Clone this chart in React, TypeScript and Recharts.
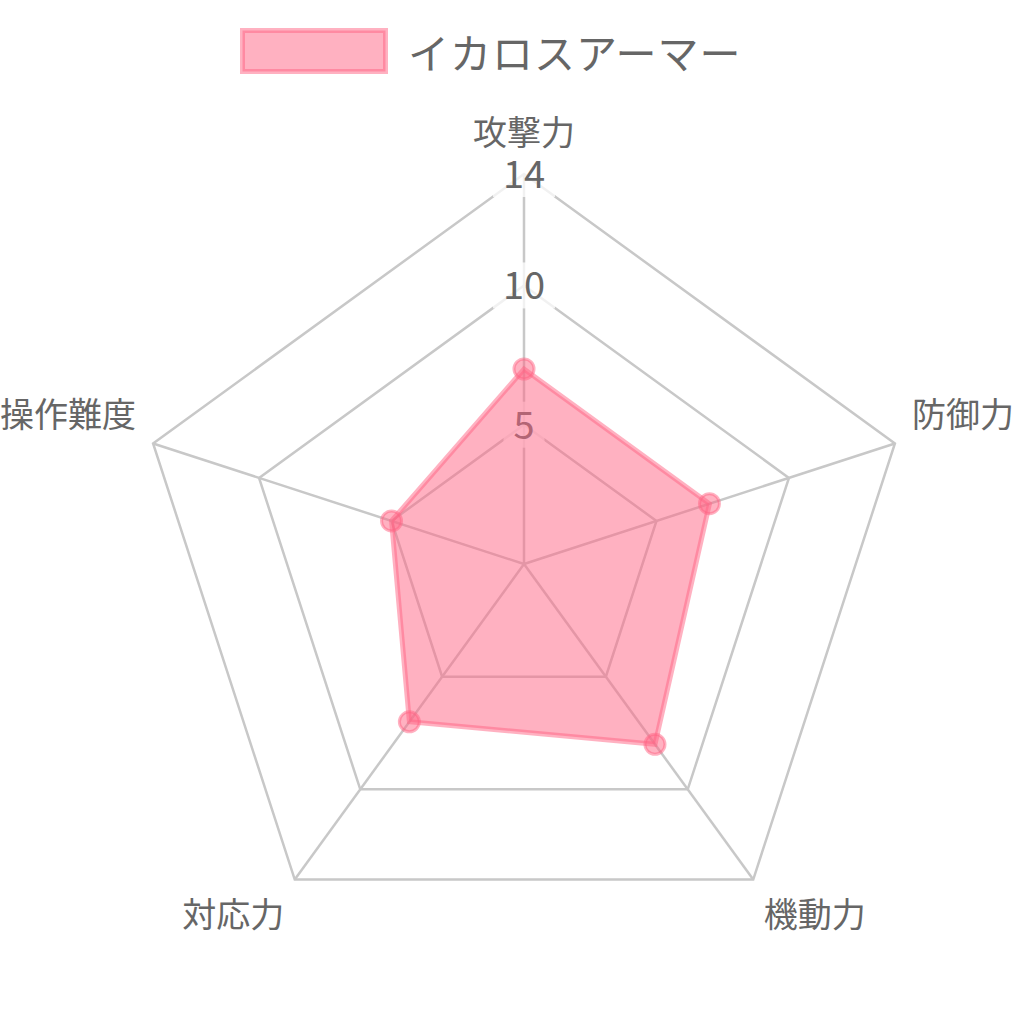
import React from "react";
import {
  RadarChart, Radar, PolarGrid, PolarAngleAxis, PolarRadiusAxis, Legend
} from "recharts";

const categories = ["攻撃力", "防御力", "機動力", "対応力", "操作難度"];
const icarusArmor = [7, 7, 8, 7, 5];
const radiusTicks = [0, 5, 10, 14];
const seriesName = "イカロスアーマー";

const data = categories.map((name, i) => ({ axis: name, value: icarusArmor[i] }));

const FONT = '"Noto Sans CJK JP", "Noto Sans", sans-serif';
const TEXT = "#666666";
const PINK = "rgb(255, 99, 132)";
const RAD = Math.PI / 180;

// point labels sit outside the outer ring, like chart.js does it
function AngleTick(props: any) {
  const { x, y, payload } = props;
  const a = payload.coordinate * RAD;
  const c = Math.cos(a);
  const anchor = Math.abs(c) < 0.01 ? "middle" : c > 0 ? "start" : "end";
  const upper = Math.sin(a) > 0;
  return (
    <text
      x={x}
      y={upper ? y - 11 : y + 33}
      textAnchor={anchor}
      fill={TEXT}
      fontSize={34}
      fontFamily={FONT}
    >
      {payload.value}
    </text>
  );
}

function RadiusTick(props: any) {
  const { x, y, payload } = props;
  if (payload.value === 0) return <g />;
  const label = String(payload.value);
  const w = label.length * 21 + 20;
  return (
    <g>
      <rect x={x - w / 2} y={y - 23} width={w} height={46} fill="#ffffff" fillOpacity={0.75} />
      <text x={x} y={y} dy={14} textAnchor="middle" fill={TEXT} fontSize={38} fontFamily={FONT}>
        {label}
      </text>
    </g>
  );
}

function LegendBox() {
  return (
    <div style={{ display: "flex", alignItems: "center", fontFamily: FONT }}>
      <svg width={148} height={46}>
        <rect
          x={2.5}
          y={2.5}
          width={143}
          height={41}
          fill={PINK}
          fillOpacity={0.5}
          stroke="rgba(255, 99, 132, 0.5)"
          strokeWidth={5}
        />
      </svg>
      <span style={{ marginLeft: 20, fontSize: 41, letterSpacing: 1, color: TEXT, lineHeight: 1 }}>
        {seriesName}
      </span>
    </div>
  );
}

export default function App() {
  return (
    <div style={{ position: "absolute", left: 0, top: 0, width: 1024, height: 1022, background: "#fff" }}>
      <RadarChart
        width={1024}
        height={1022}
        data={data}
        cx={524}
        cy={564}
        outerRadius={390}
        margin={{ top: 0, right: 0, bottom: 0, left: 0 }}
      >
        <PolarGrid gridType="polygon" stroke="#c8c8c8" strokeWidth={2.5} />
        <PolarAngleAxis
          dataKey="axis"
          tick={AngleTick}
          tickLine={false}
          axisLine={false}
          tickSize={18}
        />
        {/* chart.js draws the scale before the dataset, so the fill covers the "5" */}
        <PolarRadiusAxis
          angle={90}
          domain={[0, 14]}
          ticks={radiusTicks as any}
          axisLine={false}
          tick={RadiusTick}
          {...({ zIndex: -50 } as any)}
        />
        <Radar
          name={seriesName}
          dataKey="value"
          stroke="rgba(255, 99, 132, 0.5)"
          strokeWidth={5}
          fill={PINK}
          fillOpacity={0.5}
          dot={{ r: 10, fill: PINK, fillOpacity: 0.5, stroke: PINK, strokeOpacity: 0.5, strokeWidth: 3 }}
          isAnimationActive={false}
        />
        <Legend
          verticalAlign="middle"
          align="center"
          wrapperStyle={{ position: "absolute", top: 28, left: 240, width: "auto", height: "auto" }}
          content={() => <LegendBox />}
        />
      </RadarChart>
    </div>
  );
}
